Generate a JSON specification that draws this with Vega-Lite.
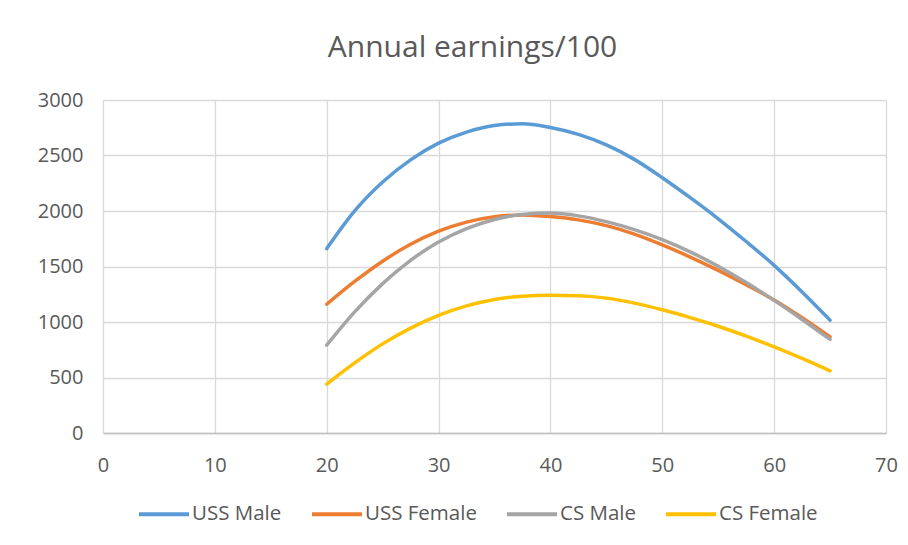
{
  "$schema": "https://vega.github.io/schema/vega-lite/v6.json",
  "width": 783,
  "height": 333,
  "autosize": {"type": "none"},
  "padding": {"left": 103, "top": 100, "right": 22, "bottom": 112},
  "background": "white",
  "title": {
    "text": "Annual earnings/100",
    "fontSize": 30,
    "font": "Open Sans",
    "fontWeight": "normal",
    "color": "#595959",
    "anchor": "middle",
    "dx": -22,
    "offset": 27
  },
  "config": {
    "view": {"stroke": null},
    "font": "Open Sans",
    "axis": {
      "labelFont": "Open Sans",
      "labelFontSize": 20,
      "labelColor": "#595959",
      "gridColor": "#D9D9D9",
      "gridWidth": 1.3,
      "ticks": false,
      "title": null
    },
    "legend": {
      "labelFont": "Open Sans",
      "labelFontSize": 20.5,
      "labelColor": "#595959"
    }
  },
  "data": {
    "values": [
      {"age": 20, "series": "USS Male", "value": 1661},
      {"age": 22.5, "series": "USS Male", "value": 2001},
      {"age": 25, "series": "USS Male", "value": 2261},
      {"age": 27.5, "series": "USS Male", "value": 2461},
      {"age": 30, "series": "USS Male", "value": 2611},
      {"age": 32.5, "series": "USS Male", "value": 2711},
      {"age": 35, "series": "USS Male", "value": 2770},
      {"age": 37.5, "series": "USS Male", "value": 2786},
      {"age": 40, "series": "USS Male", "value": 2752},
      {"age": 42.5, "series": "USS Male", "value": 2690},
      {"age": 45, "series": "USS Male", "value": 2595},
      {"age": 47.5, "series": "USS Male", "value": 2465},
      {"age": 50, "series": "USS Male", "value": 2300},
      {"age": 52.5, "series": "USS Male", "value": 2120},
      {"age": 55, "series": "USS Male", "value": 1930},
      {"age": 57.5, "series": "USS Male", "value": 1725},
      {"age": 60, "series": "USS Male", "value": 1510},
      {"age": 62.5, "series": "USS Male", "value": 1270},
      {"age": 65, "series": "USS Male", "value": 1016},
      {"age": 20, "series": "USS Female", "value": 1160},
      {"age": 22.5, "series": "USS Female", "value": 1365},
      {"age": 25, "series": "USS Female", "value": 1548},
      {"age": 27.5, "series": "USS Female", "value": 1700},
      {"age": 30, "series": "USS Female", "value": 1818},
      {"age": 32.5, "series": "USS Female", "value": 1900},
      {"age": 35, "series": "USS Female", "value": 1948},
      {"age": 37.5, "series": "USS Female", "value": 1965},
      {"age": 40, "series": "USS Female", "value": 1950},
      {"age": 42.5, "series": "USS Female", "value": 1920},
      {"age": 45, "series": "USS Female", "value": 1868},
      {"age": 47.5, "series": "USS Female", "value": 1792},
      {"age": 50, "series": "USS Female", "value": 1695},
      {"age": 52.5, "series": "USS Female", "value": 1585},
      {"age": 55, "series": "USS Female", "value": 1465},
      {"age": 57.5, "series": "USS Female", "value": 1335},
      {"age": 60, "series": "USS Female", "value": 1198},
      {"age": 62.5, "series": "USS Female", "value": 1038},
      {"age": 65, "series": "USS Female", "value": 866},
      {"age": 20, "series": "CS Male", "value": 791},
      {"age": 22.5, "series": "CS Male", "value": 1091},
      {"age": 25, "series": "CS Male", "value": 1346},
      {"age": 27.5, "series": "CS Male", "value": 1556},
      {"age": 30, "series": "CS Male", "value": 1720},
      {"age": 32.5, "series": "CS Male", "value": 1841},
      {"age": 35, "series": "CS Male", "value": 1924},
      {"age": 37.5, "series": "CS Male", "value": 1969},
      {"age": 40, "series": "CS Male", "value": 1981},
      {"age": 42.5, "series": "CS Male", "value": 1956},
      {"age": 45, "series": "CS Male", "value": 1904},
      {"age": 47.5, "series": "CS Male", "value": 1832},
      {"age": 50, "series": "CS Male", "value": 1742},
      {"age": 52.5, "series": "CS Male", "value": 1632},
      {"age": 55, "series": "CS Male", "value": 1502},
      {"age": 57.5, "series": "CS Male", "value": 1355},
      {"age": 60, "series": "CS Male", "value": 1195},
      {"age": 62.5, "series": "CS Male", "value": 1023},
      {"age": 65, "series": "CS Male", "value": 843},
      {"age": 20, "series": "CS Female", "value": 441},
      {"age": 22.5, "series": "CS Female", "value": 632},
      {"age": 25, "series": "CS Female", "value": 803},
      {"age": 27.5, "series": "CS Female", "value": 945},
      {"age": 30, "series": "CS Female", "value": 1060},
      {"age": 32.5, "series": "CS Female", "value": 1145},
      {"age": 35, "series": "CS Female", "value": 1203},
      {"age": 37.5, "series": "CS Female", "value": 1233},
      {"age": 40, "series": "CS Female", "value": 1241},
      {"age": 42.5, "series": "CS Female", "value": 1236},
      {"age": 45, "series": "CS Female", "value": 1215},
      {"age": 47.5, "series": "CS Female", "value": 1170},
      {"age": 50, "series": "CS Female", "value": 1110},
      {"age": 52.5, "series": "CS Female", "value": 1040},
      {"age": 55, "series": "CS Female", "value": 962},
      {"age": 57.5, "series": "CS Female", "value": 873},
      {"age": 60, "series": "CS Female", "value": 777},
      {"age": 62.5, "series": "CS Female", "value": 672},
      {"age": 65, "series": "CS Female", "value": 560}
    ]
  },
  "mark": {"type": "line", "interpolate": "monotone", "strokeWidth": 3.5, "strokeCap": "round"},
  "encoding": {
    "x": {
      "field": "age",
      "type": "quantitative",
      "scale": {"domain": [0, 70], "nice": false},
      "axis": {"values": [0, 10, 20, 30, 40, 50, 60, 70], "labelPadding": 22, "domainColor": "#BFBFBF", "domainWidth": 1.3, "labelFlush": false}
    },
    "y": {
      "field": "value",
      "type": "quantitative",
      "scale": {"domain": [0, 3000], "nice": false},
      "axis": {"values": [0, 500, 1000, 1500, 2000, 2500, 3000], "format": "d", "labelPadding": 20, "domain": false}
    },
    "color": {
      "field": "series",
      "type": "nominal",
      "scale": {
        "domain": ["USS Male", "USS Female", "CS Male", "CS Female"],
        "range": ["#5B9BD5", "#ED7D31", "#A5A5A5", "#FFC000"]
      },
      "legend": {
        "title": null,
        "orient": "none",
        "direction": "horizontal",
        "legendX": 34,
        "legendY": 387,
        "symbolType": "stroke",
        "symbolSize": 2500,
        "symbolStrokeWidth": 4,
        "labelOffset": 1,
        "columnPadding": 22
      }
    }
  }
}
